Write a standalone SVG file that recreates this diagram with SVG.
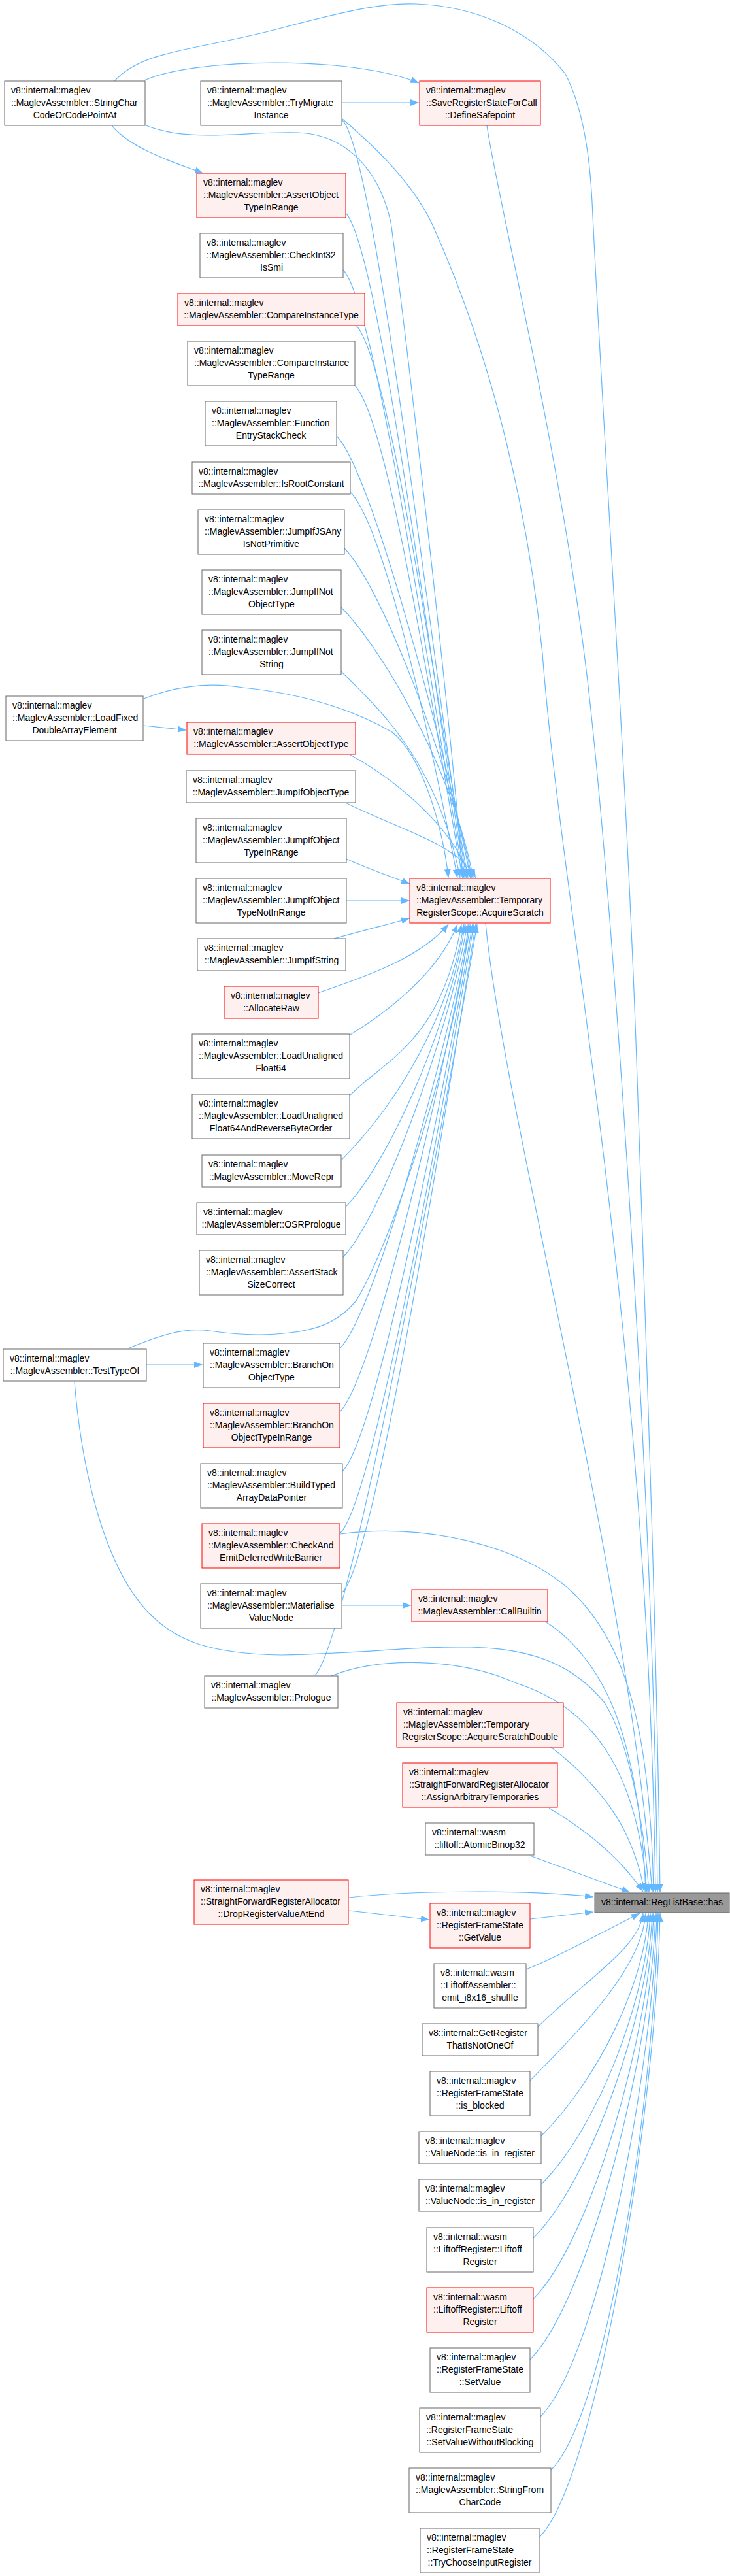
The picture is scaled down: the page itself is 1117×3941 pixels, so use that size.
<svg xmlns="http://www.w3.org/2000/svg" width="1117" height="3941" viewBox="0 0 1117 3941">
<style>
text{font-family:"Liberation Sans",Arial,sans-serif;font-size:14px;fill:#000}
.l{text-anchor:start}.m{text-anchor:middle}
.w rect{fill:#fff;stroke:#666;stroke-width:1}
.r rect{fill:#fff0f0;stroke:#f00;stroke-width:1}
.t rect{fill:#999;stroke:#666;stroke-width:1}
#edges path{fill:none;stroke:#63b8ff;stroke-width:1.2;marker-end:url(#a)}
</style>
<defs>
<marker id="a" viewBox="0 0 13 10" refX="13" refY="5" markerWidth="13" markerHeight="10" markerUnits="userSpaceOnUse" orient="auto"><path d="M0,0 L13,5 L0,10 z" fill="#63b8ff"/></marker>
</defs>
<rect width="1117" height="3941" fill="#fff"/>
<g id="edges">
<path d="M221,123 C300,88 540,85 641,127"/>
<path d="M523,157 L641,157"/>
<path d="M171,192 C200,228 270,250 311,265"/>
<path d="M221,191 C290,220 380,200 457,203 C530,206 580,260 598,340 C620,500 690,1100 708,1343"/>
<path d="M524,184 C579,239 679,1163 714,1343"/>
<path d="M529,326 C584,381 677,1163 712,1343"/>
<path d="M525,413 C580,468 675,1163 710,1343"/>
<path d="M545,498 C600,553 681,1163 716,1343"/>
<path d="M543,590 C598,645 673,1163 708,1343"/>
<path d="M515,667 C570,722 685,1163 720,1343"/>
<path d="M536,753 C591,808 665,1163 700,1343"/>
<path d="M527,839 C582,894 687,1163 722,1343"/>
<path d="M522,929 C577,984 689,1163 724,1343"/>
<path d="M522,1027 C577,1082 669,1163 704,1343"/>
<path d="M220,1069 C280,1045 330,1045 372,1052 C450,1060 530,1080 600,1120 C650,1160 680,1280 686,1343"/>
<path d="M220,1110 L285,1117"/>
<path d="M536,1155 C600,1190 690,1260 720,1343"/>
<path d="M529,1228 C600,1265 700,1290 728,1343"/>
<path d="M530,1314 C560,1328 600,1342 627,1352"/>
<path d="M530,1378 L627,1378"/>
<path d="M511,1436 C550,1425 590,1415 627,1405"/>
<path d="M487,1519 C540,1500 640,1470 686,1414"/>
<path d="M536,1583 C590,1550 670,1490 700,1414"/>
<path d="M536,1675 C591,1620 676,1593 706,1414"/>
<path d="M522,1775 C577,1720 680,1593 710,1414"/>
<path d="M530,1845 C585,1790 682,1593 712,1414"/>
<path d="M525,1923 C580,1868 685,1593 715,1414"/>
<path d="M196,2063 C240,2045 280,2030 321,2036 C380,2045 420,2042 443,2039 C490,2034 520,2020 545,1990 C600,1900 700,1600 717,1414"/>
<path d="M224,2088 L310,2088"/>
<path d="M520,2063 C575,2008 688,1593 718,1414"/>
<path d="M520,2160 C575,2105 690,1593 720,1414"/>
<path d="M524,2251 C579,2196 693,1593 723,1414"/>
<path d="M521,2345 C576,2290 695,1593 725,1414"/>
<path d="M524,2436 C579,2381 698,1593 728,1414"/>
<path d="M482,2563 C537,2508 700,1593 730,1414"/>
<path d="M523,2456 L629,2456"/>
<path d="M175,124 C220,75 300,78 430,43 C540,14 590,4 636,6 C740,10 820,55 865,113 C900,180 905,280 907,330 C925,700 960,1200 975,1650 C990,2100 1005,2500 1010,2895"/>
<path d="M745,192 C760,300 860,700 900,1050 C940,1400 1000,2300 1006,2895"/>
<path d="M524,182 C580,230 630,280 660,340 C760,560 810,800 830,1000 C860,1400 990,2000 1003,2895"/>
<path d="M743,1412 C770,1700 960,2400 998,2895"/>
<path d="M114,2114 C125,2250 160,2400 230,2470 C270,2510 320,2530 430,2532 C550,2530 640,2518 720,2520 C820,2522 880,2550 925,2605 C960,2660 985,2780 993,2895"/>
<path d="M521,2347 C640,2330 800,2360 880,2440 C960,2520 995,2650 1000,2895"/>
<path d="M507,2564 C580,2535 700,2535 790,2575 C900,2610 975,2700 990,2895"/>
<path d="M836,2482 C880,2510 920,2560 945,2630 C970,2700 985,2800 988,2895"/>
<path d="M843,2673 C880,2700 930,2750 955,2800 C970,2830 980,2860 986,2894"/>
<path d="M840,2766 C880,2790 940,2830 984,2894"/>
<path d="M811,2839 L964,2895"/>
<path d="M534,2903 C620,2893 800,2890 908,2902"/>
<path d="M534,2923 L657,2937"/>
<path d="M811,2936 L908,2925"/>
<path d="M805,3013 C850,2995 905,2965 979,2927"/>
<path d="M823,3101 C892,3032 979,2980 984,2927"/>
<path d="M811,3183 C901,3093 983,3005 988,2927"/>
<path d="M828,3268 C918,3178 987,3030 992,2927"/>
<path d="M828,3342 C918,3252 990,3052 995,2927"/>
<path d="M816,3424 C906,3334 993,3077 998,2927"/>
<path d="M816,3517 C906,3427 995,3105 1000,2927"/>
<path d="M811,3610 C901,3520 998,3133 1003,2927"/>
<path d="M827,3697 C917,3607 1000,3159 1005,2927"/>
<path d="M843,3779 C933,3689 1002,3183 1007,2927"/>
<path d="M825,3882 C915,3792 1005,3214 1010,2927"/>
</g>
<g id="n1" class="w"><rect x="7" y="124" width="215" height="68"/><text class="l" x="17" y="143">v8::internal::maglev</text><text class="l" x="17" y="162">::MaglevAssembler::StringChar</text><text class="m" x="114.5" y="181">CodeOrCodePointAt</text></g>
<g id="n2" class="w"><rect x="307" y="124" width="216" height="68"/><text class="l" x="317" y="143">v8::internal::maglev</text><text class="l" x="317" y="162">::MaglevAssembler::TryMigrate</text><text class="m" x="415" y="181">Instance</text></g>
<g id="n3" class="r"><rect x="642" y="124" width="185" height="68"/><text class="l" x="652" y="143">v8::internal::maglev</text><text class="l" x="652" y="162">::SaveRegisterStateForCall</text><text class="m" x="734.5" y="181">::DefineSafepoint</text></g>
<g id="n4" class="r"><rect x="301" y="265" width="228" height="68"/><text class="l" x="311" y="284">v8::internal::maglev</text><text class="l" x="311" y="303">::MaglevAssembler::AssertObject</text><text class="m" x="415" y="322">TypeInRange</text></g>
<g id="n5" class="w"><rect x="306" y="357" width="219" height="68"/><text class="l" x="316" y="376">v8::internal::maglev</text><text class="l" x="316" y="395">::MaglevAssembler::CheckInt32</text><text class="m" x="415.5" y="414">IsSmi</text></g>
<g id="n6" class="r"><rect x="272" y="449" width="286" height="49"/><text class="l" x="282" y="468">v8::internal::maglev</text><text class="m" x="415" y="487">::MaglevAssembler::CompareInstanceType</text></g>
<g id="n7" class="w"><rect x="287" y="522" width="256" height="68"/><text class="l" x="297" y="541">v8::internal::maglev</text><text class="l" x="297" y="560">::MaglevAssembler::CompareInstance</text><text class="m" x="415" y="579">TypeRange</text></g>
<g id="n8" class="w"><rect x="314" y="614" width="201" height="68"/><text class="l" x="324" y="633">v8::internal::maglev</text><text class="l" x="324" y="652">::MaglevAssembler::Function</text><text class="m" x="414.5" y="671">EntryStackCheck</text></g>
<g id="n9" class="w"><rect x="294" y="707" width="242" height="49"/><text class="l" x="304" y="726">v8::internal::maglev</text><text class="m" x="415" y="745">::MaglevAssembler::IsRootConstant</text></g>
<g id="n10" class="w"><rect x="303" y="780" width="224" height="68"/><text class="l" x="313" y="799">v8::internal::maglev</text><text class="l" x="313" y="818">::MaglevAssembler::JumpIfJSAny</text><text class="m" x="415" y="837">IsNotPrimitive</text></g>
<g id="n11" class="w"><rect x="309" y="872" width="213" height="68"/><text class="l" x="319" y="891">v8::internal::maglev</text><text class="l" x="319" y="910">::MaglevAssembler::JumpIfNot</text><text class="m" x="415.5" y="929">ObjectType</text></g>
<g id="n12" class="w"><rect x="309" y="964" width="213" height="68"/><text class="l" x="319" y="983">v8::internal::maglev</text><text class="l" x="319" y="1002">::MaglevAssembler::JumpIfNot</text><text class="m" x="415.5" y="1021">String</text></g>
<g id="n13" class="w"><rect x="9" y="1065" width="210" height="68"/><text class="l" x="19" y="1084">v8::internal::maglev</text><text class="l" x="19" y="1103">::MaglevAssembler::LoadFixed</text><text class="m" x="114" y="1122">DoubleArrayElement</text></g>
<g id="n14" class="r"><rect x="286" y="1105" width="258" height="49"/><text class="l" x="296" y="1124">v8::internal::maglev</text><text class="m" x="415" y="1143">::MaglevAssembler::AssertObjectType</text></g>
<g id="n15" class="w"><rect x="285" y="1179" width="259" height="49"/><text class="l" x="295" y="1198">v8::internal::maglev</text><text class="m" x="414.5" y="1217">::MaglevAssembler::JumpIfObjectType</text></g>
<g id="n16" class="w"><rect x="300" y="1252" width="230" height="68"/><text class="l" x="310" y="1271">v8::internal::maglev</text><text class="l" x="310" y="1290">::MaglevAssembler::JumpIfObject</text><text class="m" x="415" y="1309">TypeInRange</text></g>
<g id="n17" class="r"><rect x="627" y="1344" width="215" height="68"/><text class="l" x="637" y="1363">v8::internal::maglev</text><text class="l" x="637" y="1382">::MaglevAssembler::Temporary</text><text class="m" x="734.5" y="1401">RegisterScope::AcquireScratch</text></g>
<g id="n18" class="w"><rect x="300" y="1344" width="230" height="68"/><text class="l" x="310" y="1363">v8::internal::maglev</text><text class="l" x="310" y="1382">::MaglevAssembler::JumpIfObject</text><text class="m" x="415" y="1401">TypeNotInRange</text></g>
<g id="n19" class="w"><rect x="302" y="1436" width="227" height="49"/><text class="l" x="312" y="1455">v8::internal::maglev</text><text class="m" x="415.5" y="1474">::MaglevAssembler::JumpIfString</text></g>
<g id="n20" class="r"><rect x="343" y="1509" width="144" height="49"/><text class="l" x="353" y="1528">v8::internal::maglev</text><text class="m" x="415" y="1547">::AllocateRaw</text></g>
<g id="n21" class="w"><rect x="294" y="1582" width="241" height="68"/><text class="l" x="304" y="1601">v8::internal::maglev</text><text class="l" x="304" y="1620">::MaglevAssembler::LoadUnaligned</text><text class="m" x="414.5" y="1639">Float64</text></g>
<g id="n22" class="w"><rect x="294" y="1674" width="241" height="68"/><text class="l" x="304" y="1693">v8::internal::maglev</text><text class="l" x="304" y="1712">::MaglevAssembler::LoadUnaligned</text><text class="m" x="414.5" y="1731">Float64AndReverseByteOrder</text></g>
<g id="n23" class="w"><rect x="309" y="1767" width="213" height="49"/><text class="l" x="319" y="1786">v8::internal::maglev</text><text class="m" x="415.5" y="1805">::MaglevAssembler::MoveRepr</text></g>
<g id="n24" class="w"><rect x="301" y="1840" width="228" height="49"/><text class="l" x="311" y="1859">v8::internal::maglev</text><text class="m" x="415" y="1878">::MaglevAssembler::OSRPrologue</text></g>
<g id="n25" class="w"><rect x="305" y="1913" width="220" height="68"/><text class="l" x="315" y="1932">v8::internal::maglev</text><text class="l" x="315" y="1951">::MaglevAssembler::AssertStack</text><text class="m" x="415" y="1970">SizeCorrect</text></g>
<g id="n26" class="w"><rect x="5" y="2064" width="219" height="49"/><text class="l" x="15" y="2083">v8::internal::maglev</text><text class="m" x="114.5" y="2102">::MaglevAssembler::TestTypeOf</text></g>
<g id="n27" class="w"><rect x="311" y="2055" width="209" height="68"/><text class="l" x="321" y="2074">v8::internal::maglev</text><text class="l" x="321" y="2093">::MaglevAssembler::BranchOn</text><text class="m" x="415.5" y="2112">ObjectType</text></g>
<g id="n28" class="r"><rect x="311" y="2147" width="209" height="68"/><text class="l" x="321" y="2166">v8::internal::maglev</text><text class="l" x="321" y="2185">::MaglevAssembler::BranchOn</text><text class="m" x="415.5" y="2204">ObjectTypeInRange</text></g>
<g id="n29" class="w"><rect x="307" y="2239" width="217" height="68"/><text class="l" x="317" y="2258">v8::internal::maglev</text><text class="l" x="317" y="2277">::MaglevAssembler::BuildTyped</text><text class="m" x="415.5" y="2296">ArrayDataPointer</text></g>
<g id="n30" class="r"><rect x="309" y="2331" width="211" height="68"/><text class="l" x="319" y="2350">v8::internal::maglev</text><text class="l" x="319" y="2369">::MaglevAssembler::CheckAnd</text><text class="m" x="414.5" y="2388">EmitDeferredWriteBarrier</text></g>
<g id="n31" class="w"><rect x="307" y="2423" width="216" height="68"/><text class="l" x="317" y="2442">v8::internal::maglev</text><text class="l" x="317" y="2461">::MaglevAssembler::Materialise</text><text class="m" x="415" y="2480">ValueNode</text></g>
<g id="n32" class="r"><rect x="630" y="2432" width="208" height="49"/><text class="l" x="640" y="2451">v8::internal::maglev</text><text class="m" x="734" y="2470">::MaglevAssembler::CallBuiltin</text></g>
<g id="n33" class="w"><rect x="313" y="2564" width="204" height="49"/><text class="l" x="323" y="2583">v8::internal::maglev</text><text class="m" x="415" y="2602">::MaglevAssembler::Prologue</text></g>
<g id="n34" class="r"><rect x="607" y="2605" width="255" height="68"/><text class="l" x="617" y="2624">v8::internal::maglev</text><text class="l" x="617" y="2643">::MaglevAssembler::Temporary</text><text class="m" x="734.5" y="2662">RegisterScope::AcquireScratchDouble</text></g>
<g id="n35" class="r"><rect x="616" y="2697" width="237" height="68"/><text class="l" x="626" y="2716">v8::internal::maglev</text><text class="l" x="626" y="2735">::StraightForwardRegisterAllocator</text><text class="m" x="734.5" y="2754">::AssignArbitraryTemporaries</text></g>
<g id="n36" class="w"><rect x="651" y="2789" width="166" height="49"/><text class="l" x="661" y="2808">v8::internal::wasm</text><text class="m" x="734" y="2827">::liftoff::AtomicBinop32</text></g>
<g id="n37" class="t"><rect x="910" y="2896" width="206" height="30"/><text class="m" x="1013" y="2915">v8::internal::RegListBase::has</text></g>
<g id="n38" class="r"><rect x="297" y="2876" width="236" height="68"/><text class="l" x="307" y="2895">v8::internal::maglev</text><text class="l" x="307" y="2914">::StraightForwardRegisterAllocator</text><text class="m" x="415" y="2933">::DropRegisterValueAtEnd</text></g>
<g id="n39" class="r"><rect x="658" y="2912" width="153" height="68"/><text class="l" x="668" y="2931">v8::internal::maglev</text><text class="l" x="668" y="2950">::RegisterFrameState</text><text class="m" x="734.5" y="2969">::GetValue</text></g>
<g id="n40" class="w"><rect x="664" y="3004" width="141" height="68"/><text class="l" x="674" y="3023">v8::internal::wasm</text><text class="l" x="674" y="3042">::LiftoffAssembler::</text><text class="m" x="734.5" y="3061">emit_i8x16_shuffle</text></g>
<g id="n41" class="w"><rect x="646" y="3096" width="177" height="49"/><text class="l" x="656" y="3115">v8::internal::GetRegister</text><text class="m" x="734.5" y="3134">ThatIsNotOneOf</text></g>
<g id="n42" class="w"><rect x="658" y="3169" width="153" height="68"/><text class="l" x="668" y="3188">v8::internal::maglev</text><text class="l" x="668" y="3207">::RegisterFrameState</text><text class="m" x="734.5" y="3226">::is_blocked</text></g>
<g id="n43" class="w"><rect x="641" y="3261" width="187" height="49"/><text class="l" x="651" y="3280">v8::internal::maglev</text><text class="m" x="734.5" y="3299">::ValueNode::is_in_register</text></g>
<g id="n44" class="w"><rect x="641" y="3334" width="187" height="49"/><text class="l" x="651" y="3353">v8::internal::maglev</text><text class="m" x="734.5" y="3372">::ValueNode::is_in_register</text></g>
<g id="n45" class="w"><rect x="653" y="3408" width="163" height="68"/><text class="l" x="663" y="3427">v8::internal::wasm</text><text class="l" x="663" y="3446">::LiftoffRegister::Liftoff</text><text class="m" x="734.5" y="3465">Register</text></g>
<g id="n46" class="r"><rect x="653" y="3500" width="163" height="68"/><text class="l" x="663" y="3519">v8::internal::wasm</text><text class="l" x="663" y="3538">::LiftoffRegister::Liftoff</text><text class="m" x="734.5" y="3557">Register</text></g>
<g id="n47" class="w"><rect x="658" y="3592" width="153" height="68"/><text class="l" x="668" y="3611">v8::internal::maglev</text><text class="l" x="668" y="3630">::RegisterFrameState</text><text class="m" x="734.5" y="3649">::SetValue</text></g>
<g id="n48" class="w"><rect x="642" y="3684" width="185" height="68"/><text class="l" x="652" y="3703">v8::internal::maglev</text><text class="l" x="652" y="3722">::RegisterFrameState</text><text class="m" x="734.5" y="3741">::SetValueWithoutBlocking</text></g>
<g id="n49" class="w"><rect x="626" y="3776" width="217" height="68"/><text class="l" x="636" y="3795">v8::internal::maglev</text><text class="l" x="636" y="3814">::MaglevAssembler::StringFrom</text><text class="m" x="734.5" y="3833">CharCode</text></g>
<g id="n50" class="w"><rect x="643" y="3868" width="182" height="68"/><text class="l" x="653" y="3887">v8::internal::maglev</text><text class="l" x="653" y="3906">::RegisterFrameState</text><text class="m" x="734" y="3925">::TryChooseInputRegister</text></g>
</svg>
